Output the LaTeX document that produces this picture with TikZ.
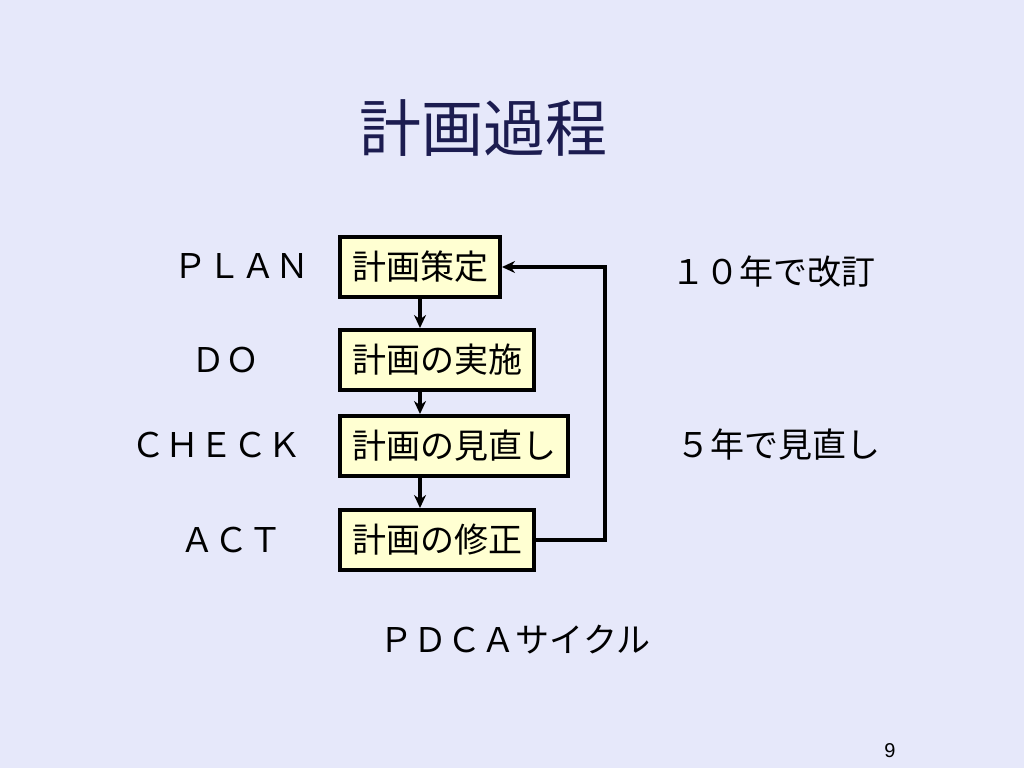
\documentclass[tikz,border=0pt]{standalone}
\usepackage{fontspec}
\setmainfont{Noto Sans CJK JP}
\newfontfamily\pagefont{Liberation Sans}
\usetikzlibrary{arrows.meta,positioning}
\definecolor{slidebg}{RGB}{230,232,250}
\definecolor{titleblue}{RGB}{28,28,80}
\definecolor{boxfill}{RGB}{255,255,210}
\tikzstyle{stage}=[rectangle,draw=black,line width=4pt,fill=boxfill,anchor=west,
minimum height=60pt,inner xsep=12pt,inner ysep=0pt,font=\fontsize{34}{40}\selectfont]
\tikzstyle{phase}=[inner sep=0pt,font=\fontsize{34}{40}\selectfont]
\tikzstyle{flow}=[->,line width=4pt]

\begin{document}
\begin{tikzpicture}[x=1pt,y=-1pt,>={Stealth[length=13pt,width=12pt]}]
    \fill[slidebg] (0,0) rectangle (1024,768);
    \useasboundingbox (0,0) rectangle (1024,768);

    \node[inner sep=0pt,text=titleblue,font=\fontsize{62}{70}\selectfont] (title) at (483,128) {計画過程};

    \node[stage] (plan) at (338,267) {計画策定};
    \node[stage] (do) at (338,360) {計画の実施};
    \node[stage] (check) at (338,446) {計画の見直し};
    \node[stage] (act) at (338,540) {計画の修正};

    \node[phase] (lplan) at (241,266) {ＰＬＡＮ};
    \node[phase] (ldo) at (225,360) {ＤＯ};
    \node[phase] (lcheck) at (216,445) {ＣＨＥＣＫ};
    \node[phase] (lact) at (231,540) {ＡＣＴ};

    \node[phase] (revise) at (773,272) {１０年で改訂};
    \node[phase] (review) at (778,445) {５年で見直し};
    \node[phase] (cycle) at (515,640) {ＰＤＣＡサイクル};

    \node[inner sep=0pt,font=\pagefont\fontsize{20}{24}\selectfont] (page) at (890,751) {9};

    \draw[flow] (plan.south) -- (plan.south |- do.north);
    \draw[flow] (plan.south |- do.south) -- (plan.south |- check.north);
    \draw[flow] (plan.south |- check.south) -- (plan.south |- act.north);
    \draw[flow] (act.east) -- ++(69,0) |- (plan.east);
\end{tikzpicture}
\end{document}
